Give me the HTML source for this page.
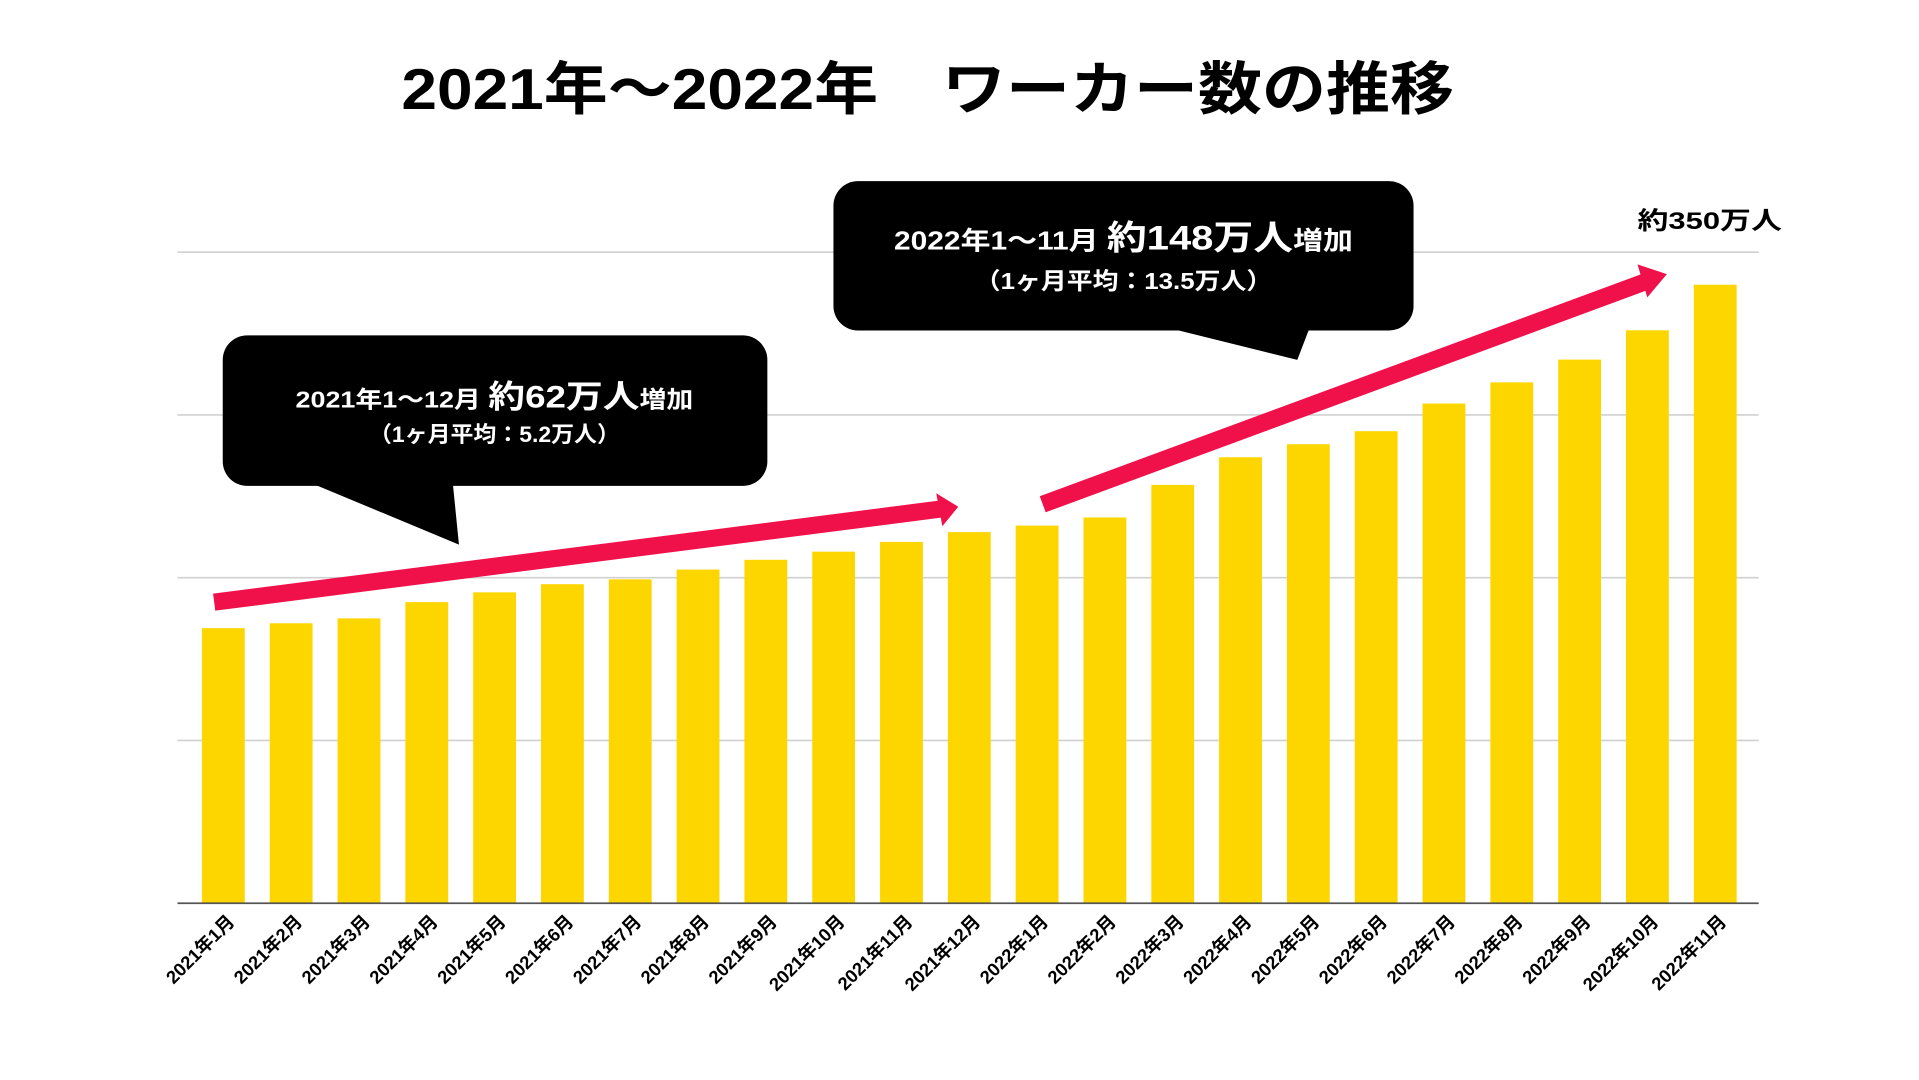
<!DOCTYPE html>
<html><head><meta charset="utf-8"><style>
html,body{margin:0;padding:0;background:#fff;}
svg{display:block;font-family:"Liberation Sans","Noto Sans CJK JP",sans-serif;}
</style></head><body>
<svg id="chart" width="1919" height="1080" viewBox="0 0 1568 882.4" xmlns="http://www.w3.org/2000/svg">
<text x="758" y="89" text-anchor="middle" font-size="47" font-weight="bold" fill="#000" textLength="860" lengthAdjust="spacingAndGlyphs">2021年～2022年　ワーカー数の推移</text>
<g id="grid"></g>
<g id="bars"></g>
<g id="xlabels"></g>
<line x1="145" y1="738" x2="1437" y2="738" stroke="#555" stroke-width="1.5"/>
<g>
<line x1="175" y1="492" x2="768" y2="416" stroke="#f0104a" stroke-width="14"/>
<polygon points="765,403 783,414 770,430" fill="#f0104a"/>
</g>
<g>
<line x1="852" y1="412" x2="1345" y2="230" stroke="#f0104a" stroke-width="14"/>
<polygon points="1338,216 1362,224 1346,243" fill="#f0104a"/>
</g>
<g>
<rect x="182" y="274" width="445" height="123" rx="20" fill="#000"/>
<polygon points="255,395 370,395 375,445" fill="#000"/>
<text x="404" y="333" text-anchor="middle" fill="#fff" font-weight="bold" font-size="19" textLength="325" lengthAdjust="spacingAndGlyphs">2021年1～12月 <tspan font-size="26">約62万人</tspan>増加</text>
<text x="404" y="361" text-anchor="middle" fill="#fff" font-weight="bold" font-size="18" textLength="205" lengthAdjust="spacingAndGlyphs">（1ヶ月平均：5.2万人）</text>
</g>
<g>
<rect x="681" y="148" width="474" height="122" rx="20" fill="#000"/>
<polygon points="955,268 1070,268 1060,294" fill="#000"/>
<text x="918" y="204" text-anchor="middle" fill="#fff" font-weight="bold" font-size="21" textLength="375" lengthAdjust="spacingAndGlyphs">2022年1～11月 <tspan font-size="28">約148万人</tspan>増加</text>
<text x="918" y="236" text-anchor="middle" fill="#fff" font-weight="bold" font-size="19" textLength="243" lengthAdjust="spacingAndGlyphs">（1ヶ月平均：13.5万人）</text>
</g>
<text x="1397" y="187" text-anchor="middle" font-weight="bold" font-size="20" fill="#000" textLength="118" lengthAdjust="spacingAndGlyphs">約350万人</text>
</svg>
<script>
const categories = ["2021年1月","2021年2月","2021年3月","2021年4月","2021年5月","2021年6月","2021年7月","2021年8月","2021年9月","2021年10月","2021年11月","2021年12月","2022年1月","2022年2月","2022年3月","2022年4月","2022年5月","2022年6月","2022年7月","2022年8月","2022年9月","2022年10月","2022年11月"];
const workers = [169,172,175,185,191,196,199,205,211,216,222,228,232,237,257,274,282,290,307,320,334,352,380];
const gridTicks = [100,200,300,400];
const NS="http://www.w3.org/2000/svg";
const y0=738, pxPerUnit=133/100, x0=165, pitch=(1384-165)/22, bw=35;
const yScale=v=>y0-v*pxPerUnit;
const xScale=i=>x0+i*pitch;
const grid=document.getElementById('grid');
gridTicks.forEach(t=>{
  const l=document.createElementNS(NS,'line');
  
  
  l.setAttribute('x1',145);l.setAttribute('x2',1437);
  l.setAttribute('y1',yScale(t));l.setAttribute('y2',yScale(t));
  l.setAttribute('stroke','#d0d0d0');l.setAttribute('stroke-width','1.3');
  grid.appendChild(l);
});
const bars=document.getElementById('bars'), xl=document.getElementById('xlabels');
workers.forEach((v,i)=>{
  const r=document.createElementNS(NS,'rect');
  
  
  r.setAttribute('x',xScale(i));r.setAttribute('y',yScale(v));
  r.setAttribute('width',bw);r.setAttribute('height',v*pxPerUnit);
  r.setAttribute('fill','#fdd600');
  bars.appendChild(r);
  const t=document.createElementNS(NS,'text');
  
  
  const cx=xScale(i)+bw/2+10, cy=754;
  t.setAttribute('x',cx);t.setAttribute('y',cy);
  t.setAttribute('text-anchor','end');
  t.setAttribute('font-size','15');t.setAttribute('font-weight','bold');
  t.setAttribute('transform','rotate(-45 '+cx+' '+cy+')');
  t.textContent=categories[i];
  xl.appendChild(t);
});
</script>
</body></html>
